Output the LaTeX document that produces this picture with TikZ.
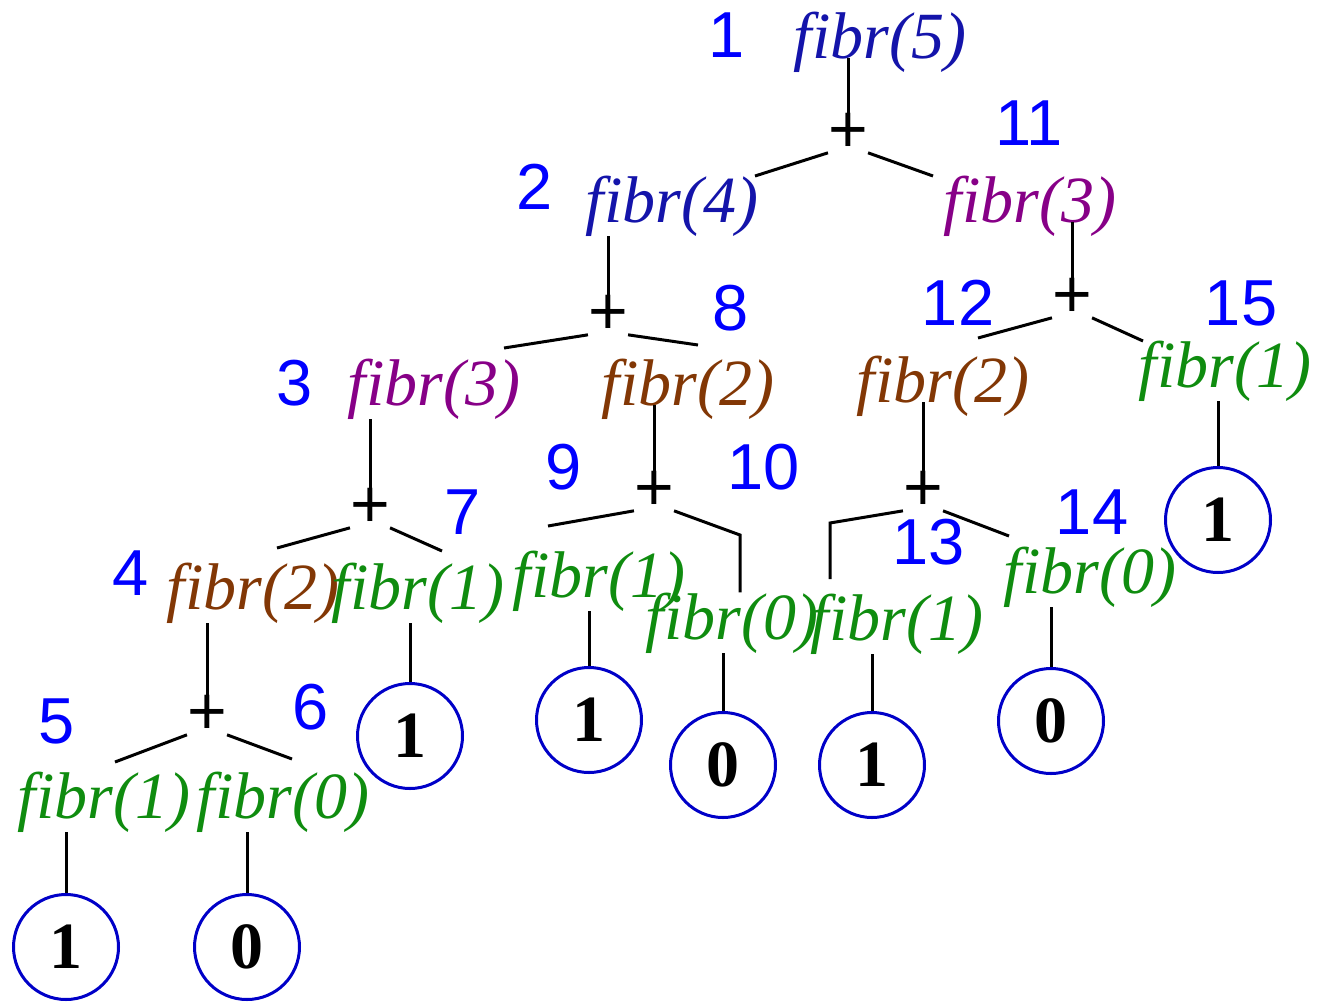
\documentclass[tikz,border=0pt]{standalone}
\usepackage{fontspec}
\setmainfont{Liberation Serif}
\newfontfamily\arialfont{Liberation Sans}
\usepackage{xcolor}

\definecolor{callblue}{RGB}{20,20,170}
\definecolor{callpurple}{RGB}{135,0,135}
\definecolor{callbrown}{RGB}{130,55,5}
\definecolor{callgreen}{RGB}{15,140,15}
\definecolor{orderblue}{RGB}{0,0,255}
\definecolor{leafblue}{RGB}{0,0,200}

\begin{document}
\begin{tikzpicture}[x=1pt,y=-1pt,
    call/.style={font=\fontsize{66}{70}\selectfont\itshape,inner sep=0pt,anchor=base},
    order/.style={font=\arialfont\fontsize{65}{70}\selectfont,text=orderblue,inner sep=0pt},
    plus/.style={font=\arialfont\fontsize{68}{70}\selectfont,inner sep=0pt},
    leaf/.style={circle,draw=leafblue,line width=3pt,minimum size=105pt,inner sep=0pt,font=\fontsize{66}{70}\selectfont\bfseries},
    edge/.style={line width=3pt}]
  \useasboundingbox (0,0) rectangle (1323,1002);

  % fibr(5)
  \node[order] (n1) at (727,35) {1};
  \node[call,text=callblue] (f1) at (880,58) {fibr(5)};
  \node[plus] (p1) at (848,133) {+};
  \coordinate (e2) at (755,176);
  \coordinate (e11) at (933,176);
  \draw[edge] (p1.north) -- (p1.north |- f1.base);
  \draw[edge] (p1.south west) -- (e2);
  \draw[edge] (p1.south east) -- (e11);

  % fibr(4) and fibr(3)
  \node[order] (n2) at (535,187) {2};
  \node[call,text=callblue] (f2) at (672,222) {fibr(4)};
  \node[order] (n11) at (1029,123) {11};
  \node[call,text=callpurple] (f11) at (1030,222) {fibr(3)};
  \node[plus] (p2) at (608,315) {+};
  \node[plus] (p11) at (1072,298) {+};
  \coordinate (e3) at (504,348);
  \coordinate (e8) at (698,345);
  \coordinate (e12) at (978,338);
  \coordinate (e15) at (1143,341);
  \draw[edge] (p2.north) -- (p2.north |- f2.south);
  \draw[edge] (p2.south west) -- (e3);
  \draw[edge] (p2.south east) -- (e8);
  \draw[edge] (p11.north) -- (p11.north |- f11.base);
  \draw[edge] (p11.south west) -- (e12);
  \draw[edge] (p11.south east) -- (e15);

  % third row
  \node[order] (n3) at (295,383) {3};
  \node[call,text=callpurple] (f3) at (434,405) {fibr(3)};
  \node[order] (n8) at (731,308) {8};
  \node[call,text=callbrown] (f8) at (688,405) {fibr(2)};
  \node[order] (n12) at (958,303) {12};
  \node[call,text=callbrown] (f12) at (943,402) {fibr(2)};
  \node[order] (n15) at (1241,303) {15};
  \node[call,text=callgreen] (f15) at (1225,387) {fibr(1)};
  \node[plus] (p3) at (370,508) {+};
  \node[plus] (p8) at (654,491) {+};
  \node[plus] (p12) at (923,491) {+};
  \node[leaf] (c15) at (1218,520) {1};
  \draw[edge] (p3.north) -- (p3.north |- f3.south);
  \draw[edge] (p8.north) -- (p8.north |- f8.base);
  \draw[edge] (p12.north) -- (p12.north |- f12.base);
  \draw[edge] (c15.north) -- (c15.north |- f15.south);

  % fourth row
  \node[order] (n4) at (131,573) {4};
  \node[call,text=callbrown] (f4) at (253,609) {fibr(2)};
  \node[order] (n7) at (463,512) {7};
  \node[call,text=callgreen] (f7) at (418,609) {fibr(1)};
  \node[order] (n9) at (564,467) {9};
  \node[call,text=callgreen] (f9) at (599,597) {fibr(1)};
  \node[order] (n10) at (764,467) {10};
  \node[call,text=callgreen] (f10) at (732,639) {fibr(0)};
  \node[order] (n13) at (929,542) {13};
  \node[call,text=callgreen] (f13) at (897,640) {fibr(1)};
  \node[order] (n14) at (1092,512) {14};
  \node[call,text=callgreen] (f14) at (1090,593) {fibr(0)};
  \coordinate (e4) at (277,548);
  \coordinate (e7) at (442,551);
  \coordinate (e9) at (548,526);
  \coordinate (e10) at (740,535);
  \coordinate (e13) at (830,523);
  \coordinate (e13b) at (830,579);
  \coordinate (e14) at (1009,536);
  \draw[edge] (p3.south west) -- (e4);
  \draw[edge] (p3.south east) -- (e7);
  \draw[edge] (p8.south west) -- (e9);
  \draw[edge] (p8.south east) -- (e10) -- (e10 |- f10.north);
  \draw[edge] (p12.south west) -- (e13) -- (e13b);
  \draw[edge] (p12.south east) -- (e14);

  % leaves of the fourth row
  \node[plus] (p4) at (207,715) {+};
  \node[leaf] (c7) at (410,736) {1};
  \node[leaf] (c9) at (589,720) {1};
  \node[leaf] (c10) at (723,765) {0};
  \node[leaf] (c13) at (872,765) {1};
  \node[leaf] (c14) at (1051,721) {0};
  \draw[edge] (p4.north) -- (p4.north |- f4.south);
  \draw[edge] (c7.north) -- (c7.north |- f7.south);
  \draw[edge] (c9.north) -- (c9.north |- f9.south);
  \draw[edge] (c10.north) -- (c10.north |- f10.south);
  \draw[edge] (c13.north) -- (c13.north |- f13.south);
  \draw[edge] (c14.north) -- (c14.north |- f14.south);

  % fibr(1) and fibr(0) at the bottom
  \node[order] (n5) at (57,721) {5};
  \node[call,text=callgreen] (f5) at (104,818) {fibr(1)};
  \node[order] (n6) at (311,707) {6};
  \node[call,text=callgreen] (f6) at (283,818) {fibr(0)};
  \coordinate (e5) at (115,762);
  \coordinate (e6) at (292,759);
  \draw[edge] (p4.south west) -- (e5);
  \draw[edge] (p4.south east) -- (e6);
  \node[leaf] (c5) at (66,947) {1};
  \node[leaf] (c6) at (247,947) {0};
  \draw[edge] (c5.north) -- (c5.north |- f5.south);
  \draw[edge] (c6.north) -- (c6.north |- f6.south);
\end{tikzpicture}
\end{document}
